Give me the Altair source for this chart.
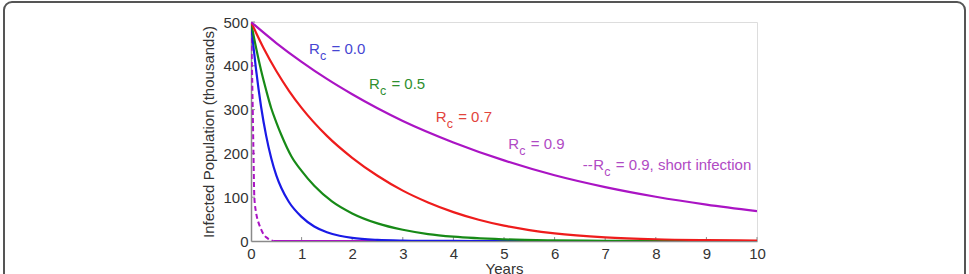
import altair as alt
import pandas as pd

# ---- infected population (thousands) over time (years) for each scenario ----
t_rc00 = [0, 0.05, 0.1, 0.2, 0.3, 0.4, 0.5, 0.6, 0.75, 1, 1.25, 1.5, 1.75, 2, 2.5, 3, 3.5, 4, 5, 6, 7, 8, 9, 10]
v_rc00 = [500, 442, 391, 306, 240, 189, 150, 121, 89, 55, 33, 19.8, 11.9, 7.1, 2.6, 0.9, 0.3, 0.1, 0, 0, 0, 0, 0, 0]

t_rc05 = [0, 0.1, 0.2, 0.3, 0.4, 0.5, 0.6, 0.8, 1, 1.25, 1.6, 2, 2.5, 3, 3.5, 4, 5, 6, 7, 8, 9, 10]
v_rc05 = [500, 441, 389, 344, 303, 271, 242, 193, 160, 126, 90.4, 63, 40.2, 25.6, 15.9, 9.9, 3.8, 1.5, 0.6, 0.2, 0.1, 0]

t_rc07 = [0, 0.25, 0.5, 0.75, 1, 1.5, 2, 2.5, 3, 3.5, 4, 4.5, 5, 5.5, 6, 7, 8, 9, 10]
v_rc07 = [500, 440, 388, 343, 304, 240, 190, 149, 115, 88, 66, 48.5, 35, 25, 17.5, 8.5, 4, 2, 1]

t_rc09 = [0, 0.5, 1, 1.5, 2, 2.5, 3, 4, 5, 6, 7, 8, 9, 10]
v_rc09 = [500, 452, 409, 370, 335, 303, 274, 225, 184, 150, 123, 101, 83, 68]

t_short = [0, 0.015, 0.03, 0.046, 0.066, 0.1, 0.14, 0.18, 0.25, 0.33, 0.44, 1, 2, 3, 4, 5, 6, 7, 8, 9, 10]
v_short = [500, 420, 330, 220, 100, 65, 45, 32, 15, 6, 0, 0, 0, 0, 0, 0, 0, 0, 0, 0, 0]

# ---- axis ticks ----
x_ticks = [0, 1, 2, 3, 4, 5, 6, 7, 8, 9, 10]
y_ticks = [0, 100, 200, 300, 400, 500]

# ---- curve annotations ----
label_prefix = ["", "", "", "", "--"]
label_rest = ["= 0.0", "= 0.5", "= 0.7", "= 0.9", "= 0.9, short infection"]
label_t = [1.146, 2.33, 3.65, 5.085, 6.765]
label_v = [426, 348, 272, 211, 161]
label_color = ["#4646d2", "#2f8f2f", "#e2443c", "#b04ac4", "#b04ac4"]

BLUE, GREEN, RED, MAGENTA = "#1a1ae6", "#178a17", "#ee1c1c", "#aa14c4"
FONT = "Liberation Sans"
W, H = 506, 219

x_scale = alt.Scale(domain=[0, 10], nice=False, zero=False)
y_scale = alt.Scale(domain=[0, 500], nice=False)

x_axis = alt.Axis(values=x_ticks, ticks=False, grid=False, labelFontSize=15, labelColor="#333333",
                  domainColor="#8a8a8a", domainWidth=1.5, labelPadding=5, labelFlush=False,
                  title="Years", titleFontSize=15, titleFontWeight="normal", titleColor="#333333",
                  titlePadding=0)
y_axis = alt.Axis(values=y_ticks, ticks=False, grid=False, labelFontSize=15, labelColor="#333333",
                  domainColor="#8a8a8a", domainWidth=1.5, labelPadding=3, labelFlush=False,
                  title="Infected Population (thousands)", titleFontSize=15,
                  titleFontWeight="normal", titleColor="#333333", titlePadding=6)


def series(t, v):
    return pd.DataFrame({"t": t, "v": v})


def curve(df, color, width=2.2, dash=None):
    kw = dict(color=color, strokeWidth=width, interpolate="monotone", clip=True)
    if dash:
        kw["strokeDash"] = dash
    return alt.Chart(df).mark_line(**kw).encode(
        x=alt.X("t:Q", scale=x_scale, axis=x_axis),
        y=alt.Y("v:Q", scale=y_scale, axis=y_axis),
    )


short_df = series(t_short, v_short)
short_dashed = curve(short_df, MAGENTA, 2.0, [5, 3]).transform_filter("datum.t <= 0.45")
short_tail = curve(short_df, MAGENTA, 2.2).transform_filter("datum.t >= 0.44")

lines = [
    short_tail,
    short_dashed,
    curve(series(t_rc00, v_rc00), BLUE),
    curve(series(t_rc05, v_rc05), GREEN),
    curve(series(t_rc07, v_rc07), RED),
    curve(series(t_rc09, v_rc09), MAGENTA),
]

# inward-pointing tick marks on both axes
xt = alt.Chart(pd.DataFrame({"t": x_ticks[1:]})).mark_rule(color="#8a8a8a", strokeWidth=1).encode(
    x=alt.X("t:Q", scale=x_scale, axis=x_axis), y=alt.datum(0), y2=alt.datum(9))
yt = alt.Chart(pd.DataFrame({"v": y_ticks[1:]})).mark_rule(color="#8a8a8a", strokeWidth=1).encode(
    y=alt.Y("v:Q", scale=y_scale, axis=y_axis), x=alt.datum(0), x2=alt.datum(0.08))

labels_df = pd.DataFrame({"t": label_t, "v": label_v, "prefix": label_prefix,
                          "rest": label_rest, "col": label_color})
lab_base = alt.Chart(labels_df).encode(
    x=alt.X("t:Q", scale=x_scale, axis=x_axis),
    y=alt.Y("v:Q", scale=y_scale, axis=y_axis),
    color=alt.Color("col:N", scale=None),
)
lab_r = lab_base.mark_text(align="left", baseline="alphabetic", fontSize=15, font=FONT).encode(
    text=alt.value("R"))
lab_c = lab_base.mark_text(align="left", baseline="alphabetic", fontSize=12.5, font=FONT,
                           dx=11, dy=6).encode(text=alt.value("c"))
lab_rest = lab_base.mark_text(align="left", baseline="alphabetic", fontSize=15, font=FONT,
                              dx=22.5).encode(text="rest:N")
lab_pre = lab_base.mark_text(align="right", baseline="alphabetic", fontSize=15, font=FONT,
                             dx=-0.5).encode(text="prefix:N")

# rounded outer frame
frame = alt.Chart(pd.DataFrame({"k": [0]})).mark_rect(
    fill="white", fillOpacity=0, stroke="#555555", strokeWidth=2, cornerRadius=8, clip=False
).encode(x=alt.value(4 - 251), x2=alt.value(965 - 251), y=alt.value(2 - 22), y2=alt.value(300))

chart = alt.layer(frame, xt, yt, *lines, lab_r, lab_c, lab_rest, lab_pre).properties(
    width=W, height=H,
    autosize=alt.AutoSizeParams(type="none"),
    padding={"left": 251, "top": 22, "right": 969 - 251 - W, "bottom": 274 - 22 - H},
    background="white",
).configure_view(strokeWidth=0).configure(font=FONT)

chart.save("out.html", embed_options={"renderer": "svg", "actions": False})
